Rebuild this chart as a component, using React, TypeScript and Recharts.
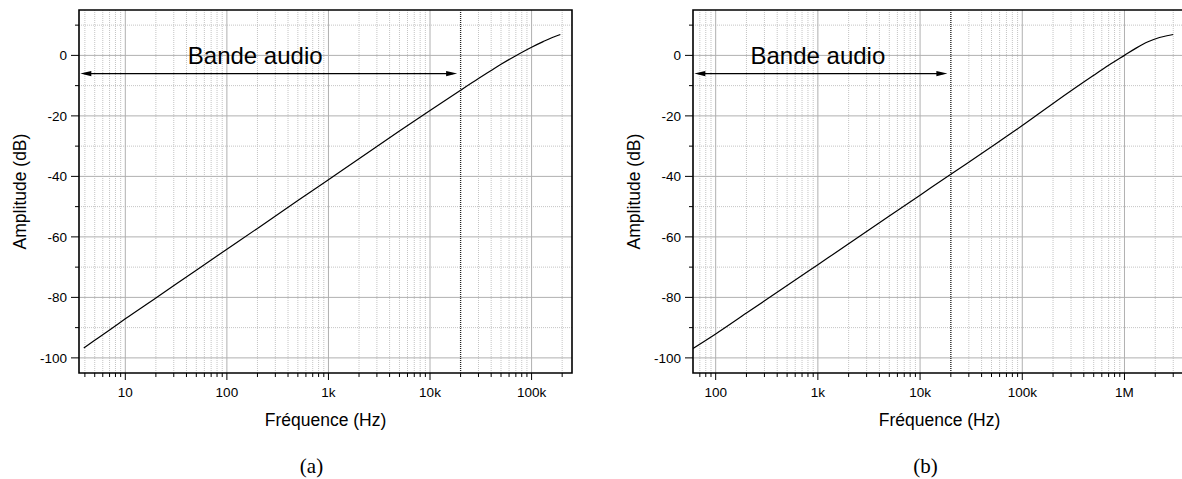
import React from 'react';
import {
  LineChart,
  Line,
  XAxis,
  YAxis,
  CartesianGrid,
  ReferenceLine,
  ReferenceArea,
  ReferenceDot,
  Label,
} from 'recharts';

// panel (a) response
const freqA = [3.9, 5, 7, 10, 20, 50, 100, 200, 500, 1000, 2000, 5000, 10000, 20000, 30000, 40000, 50000, 70000, 100000, 130000, 160000, 175000, 192000];
const dbA = [-96.7, -94.2, -90.8, -87.1, -80.2, -71.0, -64.1, -57.2, -48.0, -41.1, -34.2, -25.0, -18.2, -11.5, -7.65, -5.0, -2.95, -0.1, 2.7, 4.55, 5.9, 6.4, 6.9];

// panel (b) response
const freqB = [60, 100, 200, 500, 1000, 2000, 5000, 10000, 20000, 50000, 100000, 200000, 500000, 700000, 1000000, 1300000, 1700000, 2200000, 2600000, 3000000];
const dbB = [-96.9, -92.1, -85.2, -76.1, -69.2, -62.3, -53.1, -46.2, -39.3, -30.2, -23.2, -15.9, -6.6, -3.3, 0.0, 2.4, 4.5, 5.9, 6.5, 6.9];

const domainA = [3.5, 250000];
const domainB = [60, 4000000];
const dbDomain = [-105, 15];

const majorTicksA = [10, 100, 1000, 10000, 100000];
const majorLabelsA = ['10', '100', '1k', '10k', '100k'];
const minorTicksA = [4, 5, 6, 7, 8, 9, 20, 30, 40, 50, 60, 70, 80, 90, 200, 300, 400, 500, 600, 700, 800, 900, 2000, 3000, 4000, 5000, 6000, 7000, 8000, 9000, 20000, 30000, 40000, 50000, 60000, 70000, 80000, 90000, 200000];

const majorTicksB = [100, 1000, 10000, 100000, 1000000];
const majorLabelsB = ['100', '1k', '10k', '100k', '1M'];
const minorTicksB = [70, 80, 90, 200, 300, 400, 500, 600, 700, 800, 900, 2000, 3000, 4000, 5000, 6000, 7000, 8000, 9000, 20000, 30000, 40000, 50000, 60000, 70000, 80000, 90000, 200000, 300000, 400000, 500000, 600000, 700000, 800000, 900000, 2000000, 3000000];

const majorDb = [-100, -80, -60, -40, -20, 0];
const majorDbLabels = ['-100', '-80', '-60', '-40', '-20', '0'];
const minorDb = [-90, -70, -50, -30, -10, 10];

const audioLimit = 20000;
const arrowDb = -6;
const arrowEndF = 18500;
const bandText = 'Bande audio';
const bandDb = -2.8;
const bandCenterA = 190;
const bandCenterB = 1000;

const FONT = '"Liberation Sans", Arial, Helvetica, sans-serif';

const XTick = (props: any) => {
  const { x, y, payload, majors, labels } = props;
  const i = majors.indexOf(payload.value);
  const major = i >= 0;
  return (
    <g>
      <line x1={x} x2={x} y1={y} y2={y + (major ? 7 : 4)} stroke="#000" strokeWidth={1} />
      {major && (
        <text x={x} y={y + 24} textAnchor="middle" fontSize={13.5} fontFamily={FONT} fill="#000">
          {labels[i]}
        </text>
      )}
    </g>
  );
};

const YTick = (props: any) => {
  const { x, y, payload } = props;
  const i = majorDb.indexOf(payload.value);
  const major = i >= 0;
  return (
    <g>
      <line x1={x} x2={x - (major ? 8 : 4)} y1={y} y2={y} stroke="#000" strokeWidth={1} />
      {major && (
        <text x={x - 12} y={y} dy="0.36em" textAnchor="end" fontSize={13.5} fontFamily={FONT} fill="#000">
          {majorDbLabels[i]}
        </text>
      )}
    </g>
  );
};

const Arrow = (props: any) => {
  const { x1, y1, x2, y2 } = props;
  const l = Math.min(x1, x2);
  const r = Math.max(x1, x2);
  const y = (y1 + y2) / 2;
  return (
    <g>
      <line x1={l + 4} x2={r - 4} y1={y} y2={y} stroke="#000" strokeWidth={1.2} />
      <polygon points={`${l},${y} ${l + 11},${y - 2.6} ${l + 11},${y + 2.6}`} fill="#000" />
      <polygon points={`${r},${y} ${r - 11},${y - 2.6} ${r - 11},${y + 2.6}`} fill="#000" />
    </g>
  );
};

interface PanelProps {
  freq: number[];
  db: number[];
  domain: number[];
  majors: number[];
  labels: string[];
  minors: number[];
  bandCenter: number;
  tag: string;
}

function Panel({ freq, db, domain, majors, labels, minors, bandCenter, tag }: PanelProps) {
  const data = freq.map((f, i) => ({ f, db: db[i] }));
  const allTicks = [...minors, ...majors].sort((a, b) => a - b);
  return (
    <LineChart width={600} height={479} data={data} margin={{ top: 10, right: 28, bottom: 0, left: 0 }}>
      <CartesianGrid
        horizontalValues={minorDb}
        verticalValues={minors}
        stroke="#c4c4c4"
        strokeDasharray="1 1"
        fill="none"
      />
      <CartesianGrid horizontalValues={majorDb} verticalValues={majors} stroke="#b0b0b0" fill="none" />
      <XAxis
        dataKey="f"
        type="number"
        scale="log"
        domain={domain}
        allowDataOverflow
        ticks={allTicks}
        interval={0}
        height={106}
        tickSize={0}
        tickMargin={0}
        tickLine={false}
        axisLine={false}
        tick={<XTick majors={majors} labels={labels} />}
      >
        <Label
          content={(p: any) => {
            const vb = p.viewBox;
            return (
              <g>
                <text x={vb.x + vb.width / 2} y={vb.y + 53} textAnchor="middle" fontSize={17.5} fontFamily={FONT} fill="#000">
                  Fréquence (Hz)
                </text>
                <text x={vb.x + vb.width / 2 - 14} y={vb.y + 100} textAnchor="middle" fontSize={21} fontFamily='"Liberation Serif", "Times New Roman", serif' fill="#000">
                  {tag}
                </text>
              </g>
            );
          }}
        />
      </XAxis>
      <YAxis
        type="number"
        domain={dbDomain}
        allowDataOverflow
        ticks={[...majorDb, ...minorDb].sort((a, b) => a - b)}
        interval={0}
        width={79}
        tickSize={0}
        tickMargin={0}
        tickLine={false}
        axisLine={false}
        tick={<YTick />}
      >
        <Label
          content={(p: any) => {
            const vb = p.viewBox;
            const cy = vb.y + vb.height / 2;
            return (
              <text x={26} y={cy} transform={`rotate(-90 26 ${cy})`} textAnchor="middle" fontSize={17.5} fontFamily={FONT} fill="#000">
                Amplitude (dB)
              </text>
            );
          }}
        />
      </YAxis>
      <ReferenceLine x={audioLimit} stroke="#222" strokeWidth={1.3} strokeDasharray="1 1" />
      <ReferenceLine
        segment={[
          { x: domain[0] * 1.03, y: arrowDb },
          { x: arrowEndF, y: arrowDb },
        ]}
        shape={<Arrow />}
      />
      <ReferenceDot
        x={bandCenter}
        y={bandDb}
        r={0}
        shape={(p: any) => (
          <text x={p.cx} y={p.cy} textAnchor="middle" fontSize={24} fontFamily={FONT} fill="#000">
            {bandText}
          </text>
        )}
      />
      <Line
        type="monotone"
        dataKey="db"
        stroke="#000"
        strokeWidth={1.2}
        dot={false}
        activeDot={false}
        isAnimationActive={false}
      />
      <ReferenceArea
        x1={domain[0]}
        x2={domain[1]}
        y1={dbDomain[0]}
        y2={dbDomain[1]}
        fill="none"
        fillOpacity={0}
        stroke="#000"
        strokeWidth={1.6}
        strokeOpacity={1}
      />
    </LineChart>
  );
}

export default function App() {
  return (
    <div
      style={{
        position: 'absolute',
        left: 0,
        top: 0,
        width: 1182,
        height: 479,
        overflow: 'hidden',
        background: '#fff',
        fontFamily: FONT,
      }}
    >
      <div style={{ position: 'absolute', left: 0, top: 0 }}>
        <Panel
          freq={freqA}
          db={dbA}
          domain={domainA}
          majors={majorTicksA}
          labels={majorLabelsA}
          minors={minorTicksA}
          bandCenter={bandCenterA}
          tag="(a)"
        />
      </div>
      <div style={{ position: 'absolute', left: 614, top: 0 }}>
        <Panel
          freq={freqB}
          db={dbB}
          domain={domainB}
          majors={majorTicksB}
          labels={majorLabelsB}
          minors={minorTicksB}
          bandCenter={bandCenterB}
          tag="(b)"
        />
      </div>
    </div>
  );
}
